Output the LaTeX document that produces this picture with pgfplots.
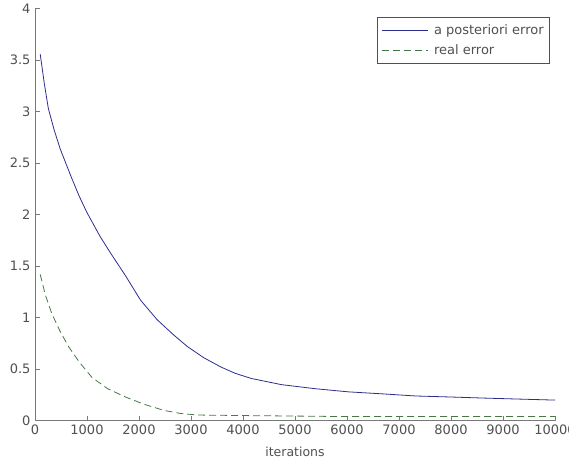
\documentclass[border=0pt]{standalone}
\usepackage{pgfplots}
\pgfplotsset{compat=1.18}
\usepackage{fontspec}
\setmainfont{DejaVu Sans}
\definecolor{ablue}{RGB}{45,45,140}
\definecolor{agreen}{RGB}{70,120,70}
\definecolor{axgray}{RGB}{120,120,120}
\definecolor{txtgray}{RGB}{80,80,80}
\begin{document}
\begin{tikzpicture}
\begin{axis}[
  at={(0,0)}, anchor=south west,
  scale only axis, width=520pt, height=412pt,
  xmin=0, xmax=10000, ymin=0, ymax=4,
  axis lines=left,
  axis line style={-, draw=axgray, line width=0.8pt},
  tick align=inside, major tick length=5pt,
  tick style={draw=axgray, line width=0.6pt},
  xtick={0,1000,...,10000},
  ytick={0,0.5,...,4},
  scaled x ticks=false,
  /pgf/number format/1000 sep={},
  /pgf/number format/assume math mode=true,
  ticklabel style={font=\fontsize{13}{15}\selectfont, text=txtgray},
  xticklabel style={yshift=-1pt},
  yticklabel style={xshift=-1pt},
  xlabel={iterations},
  xlabel style={font=\fontsize{12.5}{15}\selectfont, text=txtgray, at={(axis description cs:0.5,0)}, anchor=center, yshift=-31pt},
  legend style={at={(1-5/520,1-8/412)}, anchor=north east,
    draw=txtgray, line width=0.6pt, font=\fontsize{13}{15}\selectfont, text=txtgray,
    inner xsep=4pt, inner ysep=6pt, row sep=4pt},
  legend cell align=left,
  legend image code/.code={\draw[#1] (0pt,0pt) -- (46pt,0pt); \path (50pt,0pt);},
]
\addplot[color=ablue, line width=0.8pt] coordinates {
(100,3.56) (180,3.27) (257,3.03) (370,2.82) (484,2.64) (600,2.49) (710,2.35) (850,2.18) (1000,2.02) (1250,1.79) (1450,1.63) (1750,1.40)
(2030,1.17) (2350,0.98) (2650,0.84) (2930,0.72) (3250,0.61) (3580,0.52) (3850,0.46) (4160,0.41) (4450,0.38)
(4740,0.35) (5400,0.31) (6030,0.28) (6700,0.26) (7320,0.24) (8000,0.23) (8610,0.22) (9300,0.21) (10000,0.20)
};
\addlegendentry{a posteriori error}
\addplot[color=agreen, line width=0.8pt, dash pattern=on 7pt off 4pt] coordinates {
(100,1.42) (200,1.22) (323,1.04) (480,0.87) (645,0.72) (850,0.57) (1096,0.42) (1400,0.31)
(1741,0.23) (2095,0.16) (2480,0.10) (2800,0.07) (3128,0.055) (4000,0.05) (5000,0.045)
(6000,0.04) (7000,0.04) (8000,0.04) (9000,0.04) (10000,0.04)
};
\addlegendentry{real error}
\end{axis}
\pgfresetboundingbox
\path[use as bounding box] (-35pt,-39.3pt) rectangle (534pt,420.7pt);
\end{tikzpicture}
\end{document}
